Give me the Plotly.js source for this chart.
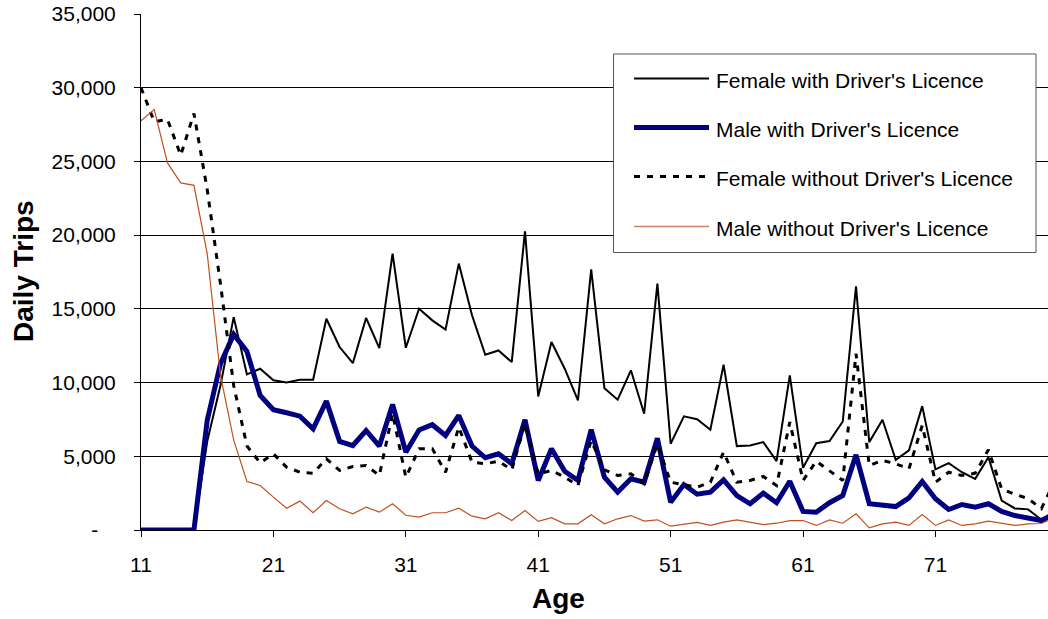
<!DOCTYPE html>
<html>
<head>
<meta charset="utf-8">
<script src="https://cdn.plot.ly/plotly-3.0.1.min.js"></script>
<style>
  html, body { margin: 0; padding: 0; background: #fff; }
  #chart { width: 1048px; height: 619px; }
</style>
</head>
<body>
<div id="chart"></div>
<script>
// ---------------- DATA ----------------
const ages = [];
for (let a = 11; a <= 80; a++) ages.push(a);

const seriesNames = [
  "Female with Driver's Licence",
  "Male with Driver's Licence",
  "Female without Driver's Licence",
  "Male without Driver's Licence"
];

const femaleWithLicence = [
  0, 0, 0, 0, 0, 6000, 9800, 14440, 10550, 10940,
  10150, 10010, 10190, 10190, 14330, 12410, 11320, 14380, 12340, 18750,
  12360, 15010, 14220, 13590, 18070, 14560, 11890, 12180, 11390, 20260,
  9060, 12750, 10940, 8790, 17680, 9620, 8840, 10830, 7890, 16710,
  5850, 7710, 7510, 6800, 11210, 5690, 5730, 5960, 4670, 10490,
  4220, 5890, 6030, 7360, 16530, 5960, 7480, 4760, 5400, 8400,
  4110, 4530, 3920, 3470, 4940, 2000, 1460, 1400, 700, 1100
];

const maleWithLicence = [
  0, 0, 0, 0, 0, 7430, 11280, 13270, 12110, 9130,
  8160, 7950, 7720, 6870, 8740, 6010, 5730, 6750, 5690, 8520,
  5280, 6780, 7140, 6410, 7770, 5690, 4900, 5170, 4490, 7480,
  3360, 5510, 3990, 3360, 6800, 3580, 2570, 3470, 3240, 6230,
  1890, 3080, 2430, 2570, 3400, 2340, 1780, 2500, 1850, 3310,
  1260, 1210, 1850, 2340, 5100, 1780, 1660, 1590, 2180, 3290,
  2120, 1390, 1730, 1550, 1780, 1260, 980, 830, 640, 1100
];

const femaleWithoutLicence = [
  30000, 27700, 27850, 25420, 28250, 23100, 16700, 9800, 5700, 4550,
  5170, 4260, 3920, 3850, 4830, 4040, 4310, 4380, 3700, 7900,
  3580, 5510, 5510, 3920, 6980, 4600, 4490, 4670, 4080, 7210,
  3810, 4040, 3580, 3020, 6070, 4080, 3700, 3810, 3130, 5850,
  3240, 3080, 2900, 3240, 5280, 3240, 3360, 3630, 3020, 7320,
  3360, 4670, 4040, 3360, 11960, 4380, 4720, 4490, 4150, 7090,
  3240, 3920, 3700, 3850, 5440, 2780, 2420, 2130, 1450, 3300
];

const maleWithoutLicence = [
  27750, 28520, 24900, 23540, 23380, 18750, 10500, 6100, 3290, 3020,
  2230, 1480, 1960, 1170, 2000, 1440, 1100, 1550, 1210, 1780,
  1000, 870, 1170, 1170, 1480, 940, 760, 1170, 640, 1320,
  580, 830, 420, 420, 1030, 420, 760, 980, 600, 690,
  260, 400, 510, 310, 530, 690, 530, 370, 460, 640,
  640, 310, 690, 460, 1100, 150, 420, 530, 310, 1050,
  310, 690, 310, 420, 600, 460, 310, 420, 440, 830
];

const xTickVals = [11, 21, 31, 41, 51, 61, 71];
const xTickText = ["11", "21", "31", "41", "51", "61", "71"];
const yTickVals = [0, 5000, 10000, 15000, 20000, 25000, 30000, 35000];
const yTickText = ["-\u00a0\u00a0\u00a0", "5,000", "10,000", "15,000", "20,000", "25,000", "30,000", "35,000"];

const xTitle = "Age";
const yTitle = "Daily Trips";

// ---------------- STYLE ----------------
const FONT = "Liberation Sans, Arial, Helvetica, sans-serif";
const W = 1048, H = 619;
const M = { l: 141, r: 0, t: 14, b: 89 };
const plotW = W - M.l - M.r, plotH = H - M.t - M.b;
const px = x => (x - M.l) / plotW;          // pixel -> paper x
const py = y => (H - M.b - y) / plotH;      // pixel -> paper y

const styles = [
  { color: "#000000", width: 2, dash: "solid" },
  { color: "#000080", width: 5, dash: "solid" },
  { color: "#000000", width: 3, dash: "6px,7px" },
  { color: "#C0501E", width: 1.2, dash: "solid" }
];
const seriesData = [femaleWithLicence, maleWithLicence, femaleWithoutLicence, maleWithoutLicence];

const traces = seriesData.map((ys, i) => ({
  type: "scatter",
  mode: "lines",
  x: ages,
  y: ys,
  name: seriesNames[i],
  line: { color: styles[i].color, width: styles[i].width, dash: styles[i].dash, shape: "linear" },
  hoverinfo: "x+y+name",
  showlegend: false
}));

// custom legend (long line samples like the original)
const legendRows = [80.5, 129.5, 178.5, 228.5];
const shapes = [{
  type: "rect", xref: "paper", yref: "paper", layer: "above",
  x0: px(613.5), x1: px(1036), y0: py(252.5), y1: py(54),
  fillcolor: "#ffffff", line: { color: "#555555", width: 1 }
}];
const annotations = [];
legendRows.forEach((ry, i) => {
  shapes.push({
    type: "line", xref: "paper", yref: "paper", layer: "above",
    x0: px(634), x1: px(709), y0: py(ry - 2), y1: py(ry - 2),
    line: { color: i === 3 ? "#D08060" : styles[i].color, width: i === 3 ? 1.5 : styles[i].width, dash: styles[i].dash }
  });
  annotations.push({
    xref: "paper", yref: "paper", x: px(714), y: py(ry), xanchor: "left", yanchor: "middle",
    text: seriesNames[i], showarrow: false, font: { family: FONT, size: 21, color: "#000" }
  });
});

annotations.push({
  xref: "paper", yref: "paper", x: px(558), y: py(598), xanchor: "center", yanchor: "middle",
  text: xTitle, showarrow: false, font: { family: FONT, size: 28, color: "#000", weight: "bold" }
});
annotations.push({
  xref: "paper", yref: "paper", x: px(23), y: py(271), xanchor: "center", yanchor: "middle",
  text: yTitle, textangle: -90, showarrow: false, font: { family: FONT, size: 28, color: "#000", weight: "bold" }
});

const layout = {
  width: W, height: H,
  margin: { l: M.l, r: M.r, t: M.t, b: M.b, pad: 0 },
  paper_bgcolor: "#ffffff", plot_bgcolor: "#ffffff",
  font: { family: FONT, size: 21, color: "#000" },
  showlegend: false,
  xaxis: {
    range: [11, 79.5], tickmode: "array", tickvals: xTickVals, ticktext: xTickText,
    ticks: "outside", ticklen: 6, tickwidth: 1, tickcolor: "#000",
    showline: true, linecolor: "#000", linewidth: 1,
    showgrid: false, zeroline: false, ticklabelstandoff: 10,
    tickfont: { family: FONT, size: 21, color: "#000" }
  },
  yaxis: {
    range: [0, 35000], tickmode: "array", tickvals: yTickVals, ticktext: yTickText,
    ticks: "outside", ticklen: 6, tickwidth: 1, tickcolor: "#000",
    showline: true, linecolor: "#000", linewidth: 1,
    showgrid: true, gridcolor: "#000", gridwidth: 1, zeroline: false,
    ticklabelstandoff: 14,
    tickfont: { family: FONT, size: 21, color: "#000" }
  },
  shapes: shapes,
  annotations: annotations
};

Plotly.newPlot("chart", traces, layout, { displayModeBar: false, staticPlot: true });
</script>
</body>
</html>
